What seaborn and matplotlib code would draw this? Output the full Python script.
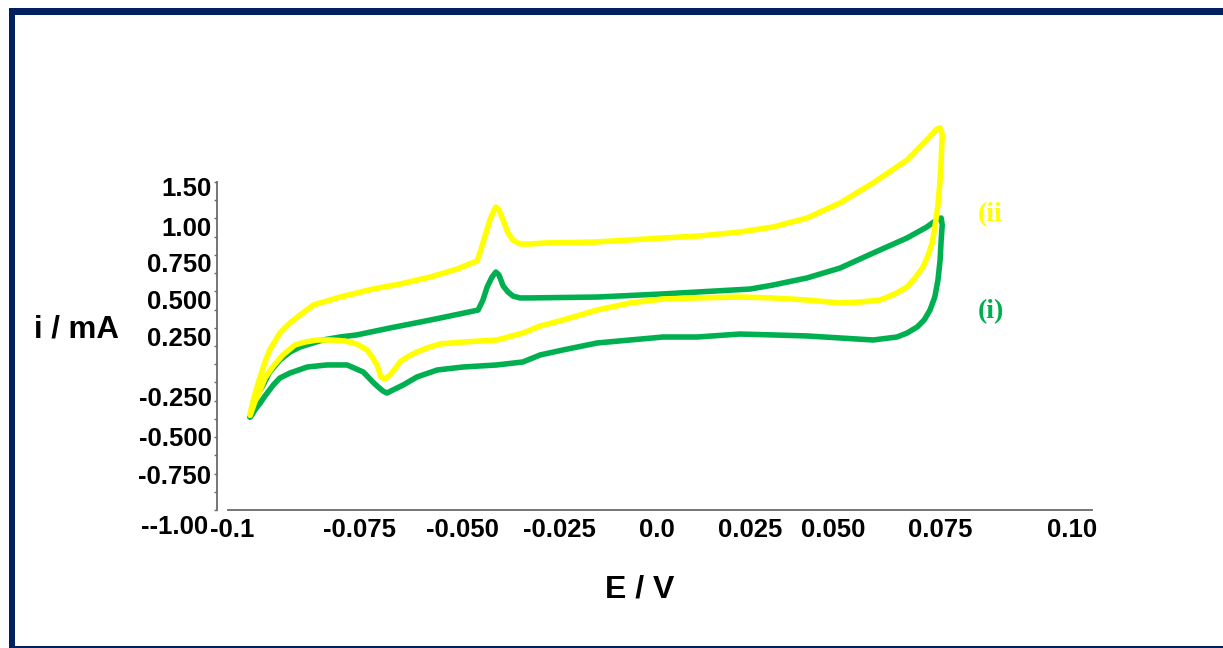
import numpy as np
import pandas as pd
import matplotlib
matplotlib.use("Agg")
import matplotlib.pyplot as plt
import seaborn as sns
from matplotlib.patches import Rectangle
from matplotlib.transforms import ScaledTranslation

# ---------------------------------------------------------------------------
# Data (E in V, i in mA)
# ---------------------------------------------------------------------------
x_tick_vals = [-0.1, -0.075, -0.05, -0.025, 0.0, 0.025, 0.05, 0.075, 0.10]
x_tick_labels = ["-0.1", "-0.075", "-0.050", "-0.025", "0.0", "0.025", "0.050", "0.075", "0.10"]
y_tick_vals = [-1.0, -0.75, -0.5, -0.25, 0.25, 0.5, 0.75, 1.0, 1.5]
y_tick_labels = ["--1.00", "-0.750", "-0.500", "-0.250", "0.250", "0.500", "0.750", "1.00", "1.50"]

# curve (i), green
E_i = [-0.0963, -0.0958, -0.0950, -0.0941, -0.0930, -0.0913, -0.0896, -0.0879, -0.0841, -0.0812,
       -0.0784, -0.0717, -0.0641, -0.0591, -0.0494, -0.0480, -0.0468, -0.0454, -0.0443, -0.0434,
       -0.0422, -0.0408, -0.0394, -0.0374, -0.0345, -0.0151, 0.0041, 0.0293, 0.0359, 0.0457,
       0.0534, 0.0596, 0.0660, 0.0697, 0.0718, 0.0724,
       0.0726, 0.0724, 0.0722, 0.0718, 0.0712, 0.0703, 0.0692, 0.0679, 0.0660, 0.0641,
       0.0596, 0.0534, 0.0457, 0.0359, 0.0264, 0.0140, 0.0041, -0.0055, -0.0151, -0.0250,
       -0.0316, -0.0365, -0.0440, -0.0533, -0.0598, -0.0649, -0.0684, -0.0710, -0.0725, -0.0735,
       -0.0750, -0.0757, -0.0773, -0.0800, -0.0834, -0.0867, -0.0896, -0.0913, -0.0924, -0.0938,
       -0.0946, -0.0955, -0.0960, -0.0963]
I_i = [-0.375, -0.313, -0.225, -0.150, -0.042, 0.058, 0.125, 0.167, 0.225, 0.250,
       0.264, 0.311, 0.351, 0.378, 0.432, 0.500, 0.588, 0.655, 0.689, 0.669,
       0.595, 0.554, 0.527, 0.514, 0.514, 0.520, 0.541, 0.574, 0.601, 0.649,
       0.716, 0.819, 0.924, 1.000, 1.098, 1.110,
       1.024, 0.910, 0.771, 0.635, 0.520, 0.432, 0.365, 0.318, 0.277, 0.250,
       0.225, 0.242, 0.257, 0.264, 0.270, 0.250, 0.250, 0.225, 0.200, 0.142,
       0.100, 0.042, 0.017, 0.000, -0.025, -0.083, -0.150, -0.192, -0.217, -0.200,
       -0.158, -0.125, -0.042, 0.017, 0.017, 0.000, -0.050, -0.092, -0.150, -0.242,
       -0.288, -0.331, -0.363, -0.375]

# curve (ii), yellow
E_ii = [-0.0963, -0.0960, -0.0953, -0.0946, -0.0938, -0.0930, -0.0913, -0.0896, -0.0879, -0.0857,
        -0.0812, -0.0757, -0.0692, -0.0616, -0.0548, -0.0497, -0.0486, -0.0474, -0.0460, -0.0448,
        -0.0443, -0.0434, -0.0422, -0.0408, -0.0394, -0.0374, -0.0345, -0.0302, -0.0151, 0.0041,
        0.0148, 0.0264, 0.0359, 0.0457, 0.0534, 0.0596, 0.0660, 0.0697, 0.0716, 0.0722,
        0.0726, 0.0724, 0.0722, 0.0718, 0.0712, 0.0707, 0.0699, 0.0690, 0.0675, 0.0660,
        0.0637, 0.0609, 0.0571, 0.0534, 0.0457, 0.0359, 0.0264, 0.0140, 0.0041, -0.0055,
        -0.0151, -0.0250, -0.0316, -0.0365, -0.0440, -0.0533, -0.0591, -0.0624, -0.0649, -0.0674,
        -0.0692, -0.0705, -0.0717, -0.0730, -0.0740, -0.0750, -0.0758, -0.0767, -0.0784, -0.0804,
        -0.0829, -0.0851, -0.0871, -0.0888, -0.0908, -0.0924, -0.0938, -0.0946, -0.0955, -0.0961,
        -0.0963]
I_ii = [-0.363, -0.306, -0.192, -0.083, 0.042, 0.142, 0.277, 0.345, 0.399, 0.466,
        0.520, 0.574, 0.608, 0.655, 0.709, 0.764, 0.840, 0.938, 1.085, 1.207,
        1.244, 1.207, 1.085, 0.958, 0.910, 0.882, 0.882, 0.889, 0.896, 0.924,
        0.938, 0.965, 1.000, 1.110, 1.293, 1.537, 1.817, 2.061, 2.195, 2.207,
        2.122, 1.817, 1.573, 1.268, 0.993, 0.889, 0.799, 0.723, 0.649, 0.588,
        0.541, 0.500, 0.486, 0.480, 0.500, 0.514, 0.520, 0.514, 0.507, 0.480,
        0.432, 0.365, 0.324, 0.277, 0.225, 0.208, 0.192, 0.158, 0.125, 0.083,
        0.042, -0.017, -0.067, -0.100, -0.083, 0.017, 0.083, 0.142, 0.192, 0.217,
        0.225, 0.225, 0.208, 0.183, 0.100, 0.008, -0.092, -0.192, -0.281, -0.344,
        -0.363]

df = pd.concat([
    pd.DataFrame({"E": E_i, "i": I_i, "scan": "(i)"}),
    pd.DataFrame({"E": E_ii, "i": I_ii, "scan": "(ii)"}),
], ignore_index=True)
palette = {"(i)": "#00B050", "(ii)": "#FFFF00"}

# ---------------------------------------------------------------------------
# Axis scales: the original tick labels are unevenly spaced, so map
# each labelled value to where it sits in the picture (piecewise linear)
# ---------------------------------------------------------------------------
W, H = 1223, 648
x_tick_px = [228, 377, 476, 563, 649, 735, 822, 955, 1058]
y_tick_px = [525, 475, 437, 397, 337, 300, 263, 227, 186]
# small sideways shifts of the x labels against their ticks, as in the original
x_label_shift = [4, -17, -14, -4, 8, 15, 11, -15, 14]


def piecewise(vals, px):
    vals = np.asarray(vals, float)
    px = np.asarray(px, float)

    def _map(v, a, b):
        v = np.asarray(v, float)
        out = np.interp(v, a, b)
        lo = (b[1] - b[0]) / (a[1] - a[0])
        hi = (b[-1] - b[-2]) / (a[-1] - a[-2])
        out = np.where(v < a[0], b[0] + (v - a[0]) * lo, out)
        out = np.where(v > a[-1], b[-1] + (v - a[-1]) * hi, out)
        return out

    return (lambda v: _map(v, vals, px)), (lambda p: _map(p, px, vals))


fx, ix = piecewise(x_tick_vals, x_tick_px)
fy, iy = piecewise(y_tick_vals, [-p for p in y_tick_px])

sns.set_style("white")
plt.rcParams["font.family"] = ["Liberation Sans", "DejaVu Sans"]
plt.rcParams["text.color"] = "black"
plt.rcParams["axes.labelcolor"] = "black"

fig = plt.figure(figsize=(W / 100, H / 100), dpi=100)
ax = fig.add_axes([217 / W, (H - 535) / H, (1092 - 217) / W, (535 - 110) / H])
ax.patch.set_alpha(0)

sns.lineplot(data=df, x="E", y="i", hue="scan", hue_order=["(i)", "(ii)"],
             palette=palette, sort=False, estimator=None, lw=4,
             solid_joinstyle="round", solid_capstyle="round",
             legend=False, ax=ax)

ax.set_xscale("function", functions=(fx, ix))
ax.set_yscale("function", functions=(fy, iy))
ax.set_xlim(float(ix(217)), float(ix(1092)))
ax.set_ylim(float(iy(-535)), float(iy(-110)))

# spines first (moving a spine resets the tick objects)
axis_col = "#6a6a6a"
for side in ["top", "right"]:
    ax.spines[side].set_visible(False)
y_base = float(iy(-510))
ax.spines["bottom"].set_position(("data", y_base))
ax.spines["bottom"].set_bounds(-0.1, float(ix(1092)))
ax.spines["left"].set_bounds(y_base, float(iy(-182)))
for side in ["bottom", "left"]:
    ax.spines[side].set_color(axis_col)
    ax.spines[side].set_linewidth(1.3)

ax.set_xticks(x_tick_vals, x_tick_labels)
ax.set_yticks(y_tick_vals, y_tick_labels)
ax.set_yticks(iy(-np.linspace(182, 510, 19)), minor=True)
ax.xaxis.set_minor_locator(matplotlib.ticker.NullLocator())

ax.tick_params(axis="both", which="major", labelsize=18.5, labelcolor="black")
ax.tick_params(axis="x", which="major", direction="out", length=3, width=1,
               color=axis_col, pad=3)
ax.tick_params(axis="y", which="major", length=0, pad=4)
ax.tick_params(axis="y", which="minor", direction="out", length=2.5, width=1,
               color=axis_col, left=True)
for lbl in ax.get_xticklabels() + ax.get_yticklabels():
    lbl.set_fontweight("bold")
for tick, dx in zip(ax.xaxis.get_major_ticks(), x_label_shift):
    lbl = tick.label1
    lbl.set_transform(lbl.get_transform() + ScaledTranslation(dx / 100, 0, fig.dpi_scale_trans))
lbl = ax.yaxis.get_major_ticks()[0].label1
lbl.set_transform(lbl.get_transform() + ScaledTranslation(-3 / 100, 0, fig.dpi_scale_trans))

ax.set_xlabel("E / V", fontsize=23, fontweight="bold", color="black")
ax.xaxis.set_label_coords((640 - 217) / 875, (535 - 590) / 425)
ax.xaxis.label.set_verticalalignment("center")
ax.set_ylabel("i / mA", fontsize=22.5, fontweight="bold", rotation=0,
              ha="center", va="center", color="black")
ax.yaxis.set_label_coords((77 - 217) / 875, (535 - 330) / 425)
ax.grid(False)

# curve labels
fig.text(978 / W, 1 - 215 / H, "(ii", color=palette["(ii)"], fontsize=20,
         fontweight="bold", family=["Liberation Serif", "DejaVu Serif"], va="center")
fig.text(978 / W, 1 - 312 / H, "(i)", color=palette["(i)"], fontsize=20,
         fontweight="bold", family=["Liberation Serif", "DejaVu Serif"], va="center")

# navy frame
navy = "#002060"
fig.add_artist(Rectangle((9 / W, 0), 6 / W, 1 - 8 / H, transform=fig.transFigure,
                         color=navy, lw=0))
fig.add_artist(Rectangle((9 / W, 1 - 15 / H), 1 - 9 / W, 7 / H, transform=fig.transFigure,
                         color=navy, lw=0))
fig.add_artist(Rectangle((9 / W, 0), 1 - 9 / W, 2 / H, transform=fig.transFigure,
                         color=navy, lw=0))

plt.savefig("out.png", dpi=100)
plt.close()
